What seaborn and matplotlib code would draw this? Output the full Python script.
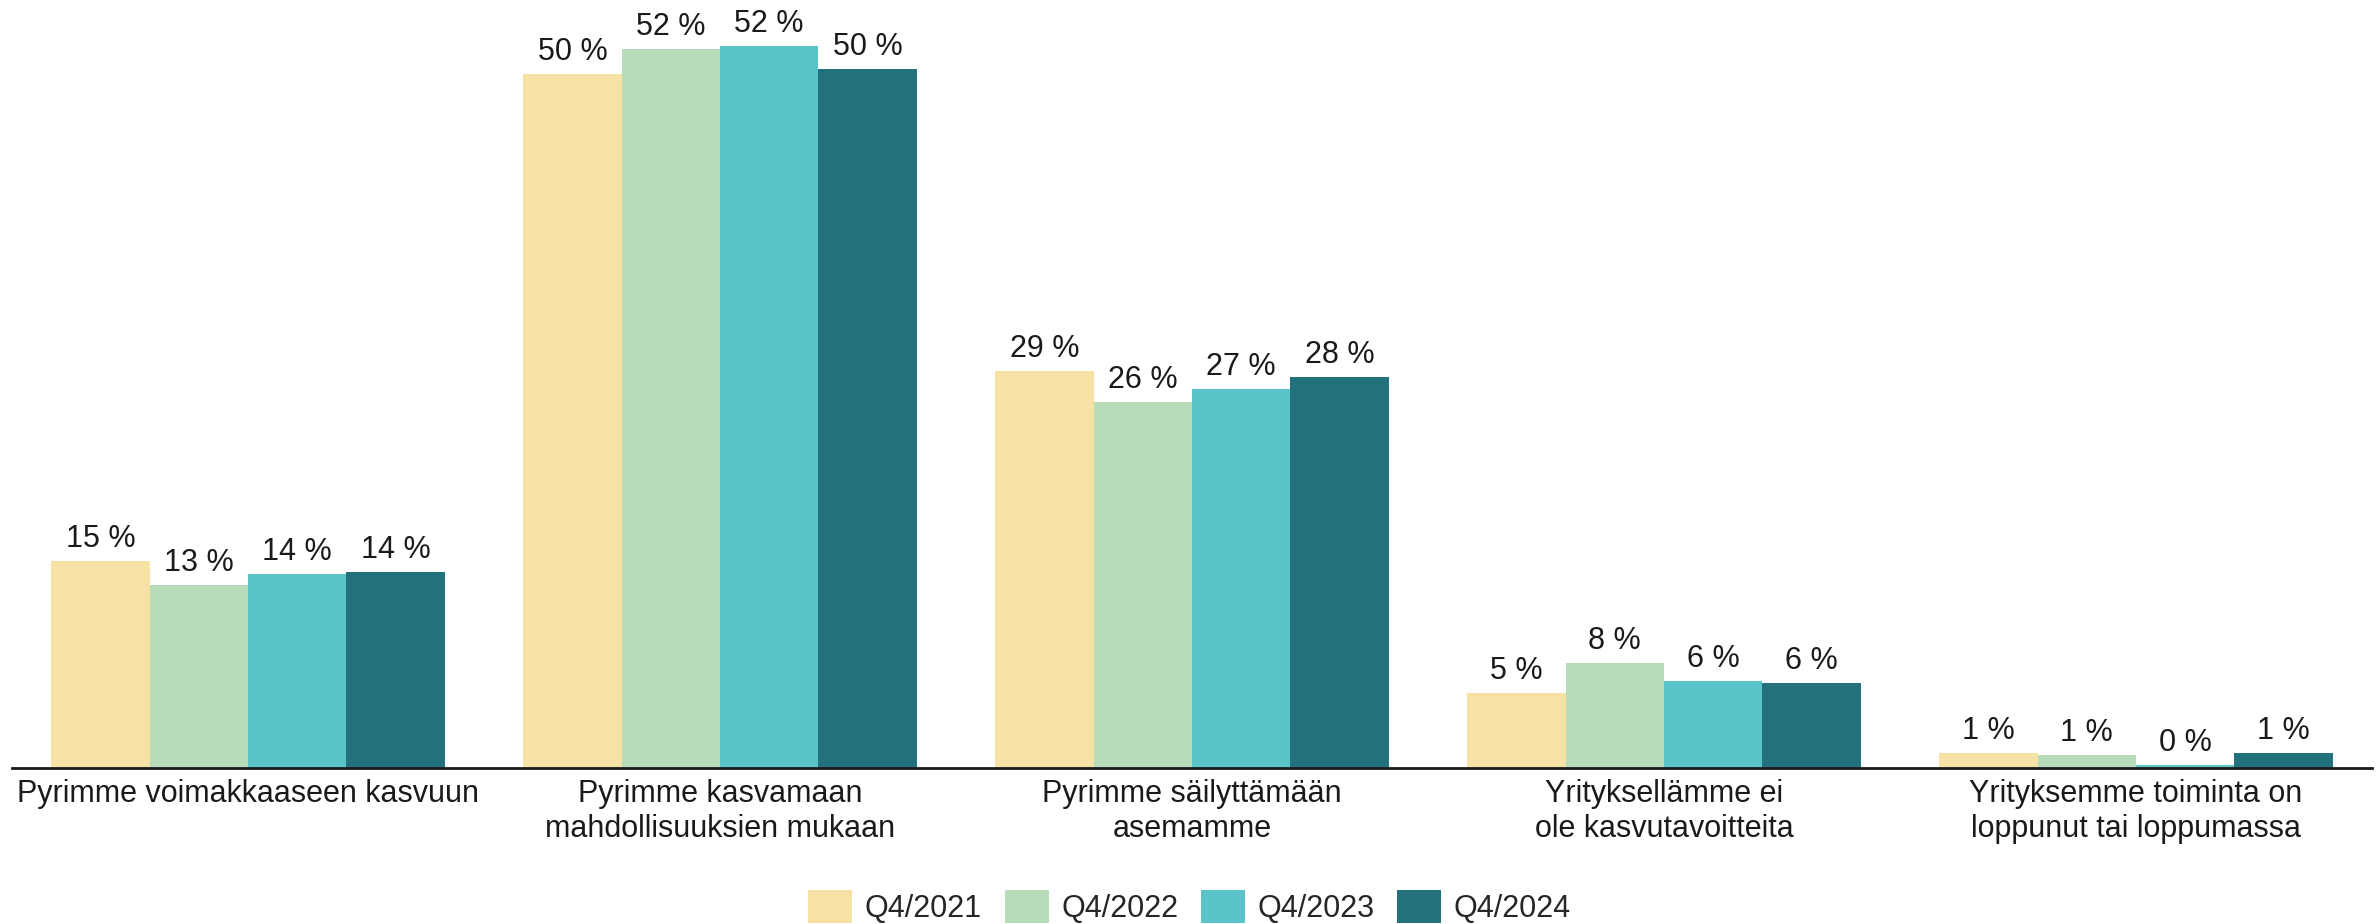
import pandas as pd
import matplotlib
matplotlib.use("Agg")
import matplotlib.pyplot as plt
import seaborn as sns

# categories and series
categories = [
    "Pyrimme voimakkaaseen kasvuun",
    "Pyrimme kasvamaan\nmahdollisuuksien mukaan",
    "Pyrimme säilyttämään\nasemamme",
    "Yrityksellämme ei\nole kasvutavoitteita",
    "Yrityksemme toiminta on\nloppunut tai loppumassa",
]
quarters = ["Q4/2021", "Q4/2022", "Q4/2023", "Q4/2024"]

q4_2021 = [14.9, 50.0, 28.6, 5.4, 1.1]
q4_2022 = [13.2, 51.8, 26.4, 7.6, 0.96]
q4_2023 = [14.0, 52.05, 27.3, 6.3, 0.24]
q4_2024 = [14.15, 50.4, 28.2, 6.15, 1.08]

colors = ["#F6E2A4", "#B8DCBA", "#5BC4CA", "#24717E"]

# build a long dataframe for seaborn
rows = []
for quarter, values in zip(quarters, [q4_2021, q4_2022, q4_2023, q4_2024]):
    for cat, val in zip(categories, values):
        rows.append({"Kategoria": cat, "Vuosi": quarter, "Osuus": val})
df = pd.DataFrame(rows)

sns.set_style("white")
plt.rcParams["font.family"] = ["Liberation Sans", "DejaVu Sans"]

fig = plt.figure(figsize=(23.79, 9.24), dpi=100)
ax = fig.add_axes([12 / 2379, 156 / 924, 2360 / 2379, 763 / 924])

sns.barplot(data=df, x="Kategoria", y="Osuus", hue="Vuosi", order=categories,
            hue_order=quarters, palette=colors, saturation=1, width=0.833,
            gap=0, errorbar=None, linewidth=0, ax=ax)

# value labels on top of each bar
for container, values in zip(ax.containers, [q4_2021, q4_2022, q4_2023, q4_2024]):
    ax.bar_label(container, labels=[f"{round(v)} %" for v in values],
                 padding=5, fontsize=22, color="#1a1a1a")

# axes settings
ax.set_xlim(-0.5, 4.5)
ax.set_ylim(0, 55)
ax.set_xlabel("")
ax.set_ylabel("")
ax.set_yticks([])
ax.tick_params(axis="x", length=0, pad=8, labelsize=22, labelcolor="#1a1a1a")
for side in ["left", "right", "top"]:
    ax.spines[side].set_visible(False)
ax.spines["bottom"].set_color("#1a1a1a")
ax.spines["bottom"].set_linewidth(2)

# legend at the bottom, squares run off the lower edge like in the original
leg = ax.legend(loc="upper center", bbox_to_anchor=(0.5, 34 / 924), bbox_transform=fig.transFigure,
                ncol=4, frameon=False, fontsize=22, handlelength=1.44, handleheight=1.3,
                handletextpad=0.41, columnspacing=0.74, borderaxespad=0, borderpad=0)
for patch in leg.get_patches():
    patch.set_linewidth(0)

plt.savefig("out.png", dpi=100)
plt.close()
